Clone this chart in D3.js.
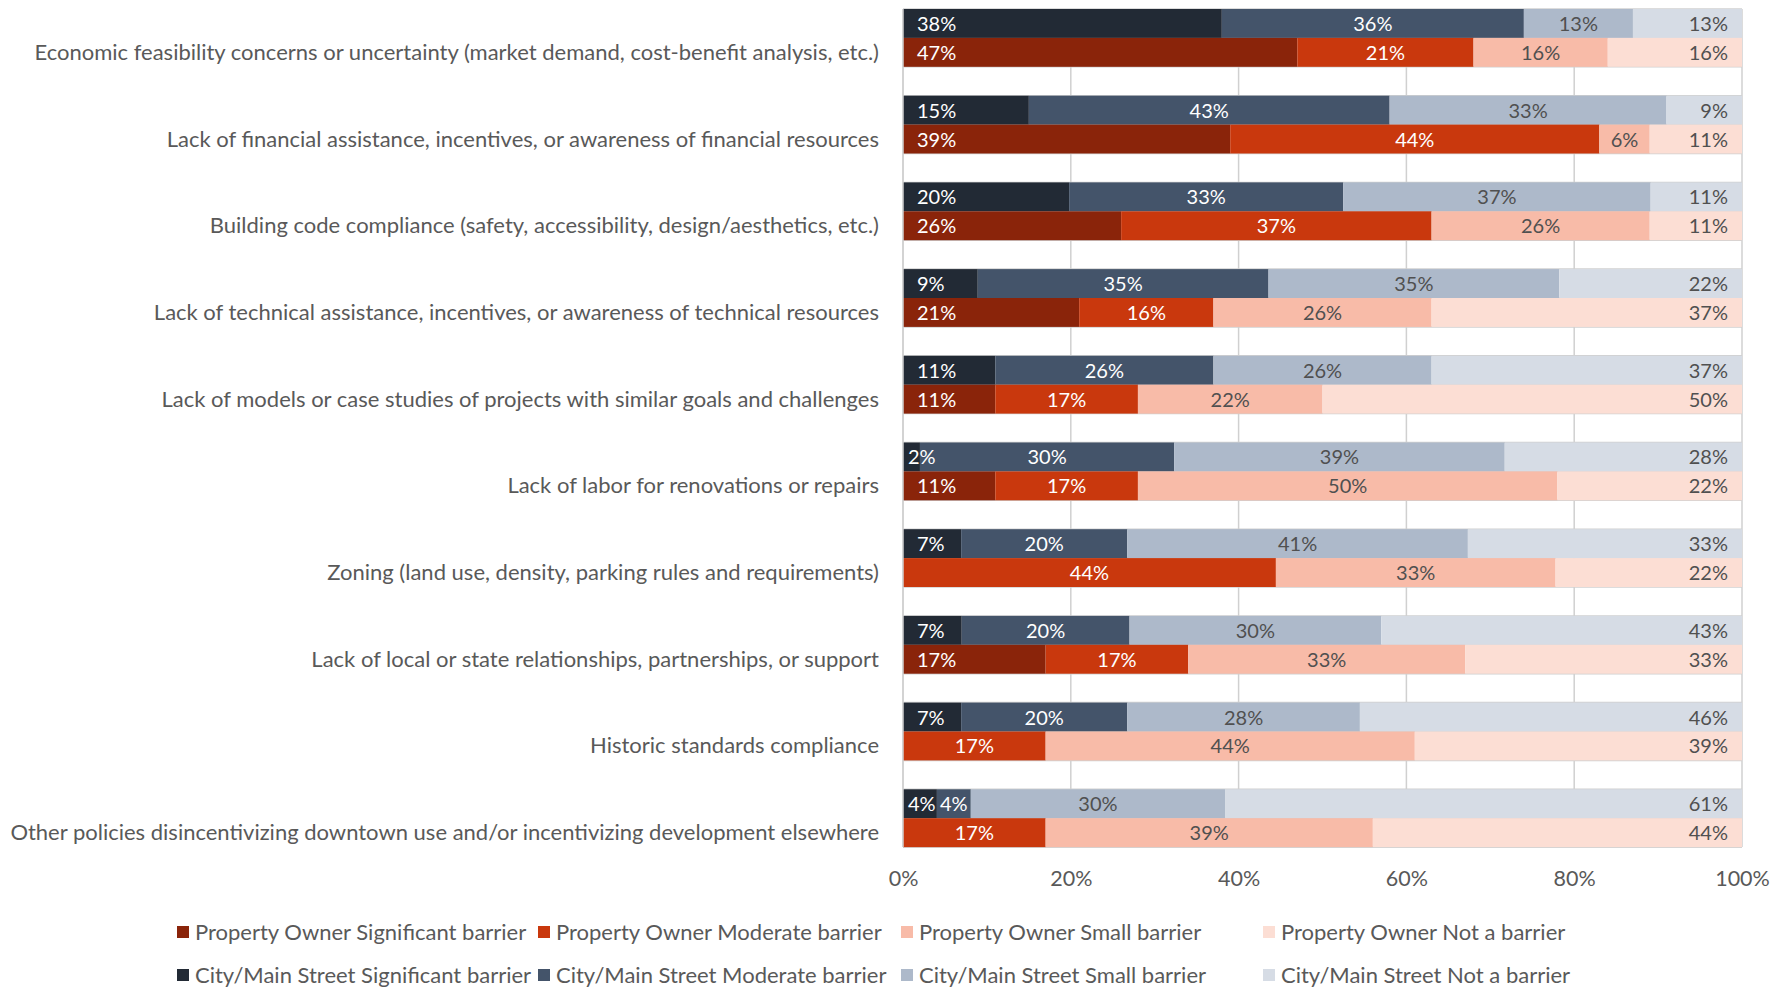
<!DOCTYPE html>
<html>
<head>
<meta charset="utf-8">
<script src="https://cdn.jsdelivr.net/npm/d3@7"></script>
<style>
  html, body { margin: 0; padding: 0; background: #ffffff; }
  svg { display: block; font-family: Lato, "Open Sans", sans-serif; }
</style>
</head>
<body>
<svg id="chart" width="1788" height="988"></svg>
<script>
// Barrier categories, top to bottom
const categories = [
  "Economic feasibility concerns or uncertainty (market demand, cost-benefit analysis, etc.)",
  "Lack of financial assistance, incentives, or awareness of financial resources",
  "Building code compliance (safety, accessibility, design/aesthetics, etc.)",
  "Lack of technical assistance, incentives, or awareness of technical resources",
  "Lack of models or case studies of projects with similar goals and challenges",
  "Lack of labor for renovations or repairs",
  "Zoning (land use, density, parking rules and requirements)",
  "Lack of local or state relationships, partnerships, or support",
  "Historic standards compliance",
  "Other policies disincentivizing downtown use and/or incentivizing development elsewhere"
];

// Response levels, in stacking order
const levels = ["Significant barrier", "Moderate barrier", "Small barrier", "Not a barrier"];

// City/Main Street responses (%), one row per category: significant, moderate, small, not
const citySignificant = [38, 15, 20,  9, 11,  2,  7,  7,  7,  4];
const cityModerate    = [36, 43, 33, 35, 26, 30, 20, 20, 20,  4];
const citySmall       = [13, 33, 37, 35, 26, 39, 41, 30, 28, 30];
const cityNot         = [13,  9, 11, 22, 37, 28, 33, 43, 46, 61];

// Property Owner responses (%)
const ownerSignificant = [47, 39, 26, 21, 11, 11,  0, 17,  0,  0];
const ownerModerate    = [21, 44, 37, 16, 17, 17, 44, 17, 17, 17];
const ownerSmall       = [16,  6, 26, 26, 22, 50, 33, 33, 44, 39];
const ownerNot         = [16, 11, 11, 37, 50, 22, 22, 33, 39, 44];

const xTicks = [0, 20, 40, 60, 80, 100];

const cityColors  = ["#222a35", "#44546a", "#adb9ca", "#d6dce5"];
const ownerColors = ["#8a240a", "#c9380d", "#f8bba8", "#fcded4"];
// label colour per level: white on dark fills, grey on light fills
const labelColors = ["#ffffff", "#ffffff", "#505050", "#505050"];

const groups = [
  { key: "city",  name: "City/Main Street", colors: cityColors,
    values: [citySignificant, cityModerate, citySmall, cityNot] },
  { key: "owner", name: "Property Owner",   colors: ownerColors,
    values: [ownerSignificant, ownerModerate, ownerSmall, ownerNot] }
];

const svg = d3.select("#chart");

const plot = { left: 903, right: 1742, top: 9 };
const slot = 28.9; // height of one bar row
const step = slot * 3; // city row, owner row, empty row

const x = d3.scaleLinear().domain([0, 1]).range([plot.left, plot.right]);
const y = d3.scaleBand().domain(categories)
  .range([plot.top, plot.top + step * categories.length])
  .paddingInner(0).paddingOuter(0);
const row = d3.scaleBand().domain(["city", "owner", "gap"]).range([0, step]);
const plotBottom = y(categories[categories.length - 1]) + row("owner") + row.bandwidth();

const gridColor = "#d0d0d0";
const grid = svg.append("g").attr("class", "grid");

// horizontal row boundaries (visible only in the empty rows)
const hLines = [];
categories.forEach(c => {
  ["city", "owner", "gap"].forEach(r => hLines.push(y(c) + row(r)));
});
hLines.push(plotBottom);
grid.selectAll("line.h").data(hLines.filter(v => v <= plotBottom + 0.5)).join("line")
  .attr("class", "h")
  .attr("x1", plot.left).attr("x2", plot.right)
  .attr("y1", d => d).attr("y2", d => d)
  .attr("stroke", gridColor).attr("stroke-width", 1.5);

// vertical gridlines at each tick
grid.selectAll("line.v").data(xTicks).join("line")
  .attr("class", "v")
  .attr("x1", d => x(d / 100)).attr("x2", d => x(d / 100))
  .attr("y1", plot.top).attr("y2", plotBottom)
  .attr("stroke", gridColor).attr("stroke-width", 1.5);

// 100% stacked bars
const stack = d3.stack()
  .keys(d3.range(levels.length))
  .value((d, k) => d[k])
  .offset(d3.stackOffsetExpand);

const labelFont = 20;
const pad = 14;

const barLayer = svg.append("g").attr("class", "bars");
const labelLayer = svg.append("g").attr("class", "bar-labels");

groups.forEach(g => {
  const rows = categories.map((c, i) => {
    const r = g.values.map(v => v[i]);
    r.category = c;
    return r;
  });
  const series = stack(rows);

  series.forEach((s, k) => {
    const items = s.map((d, i) => ({ x0: d[0], x1: d[1], v: rows[i][k], cat: categories[i] }))
      .filter(d => d.v > 0);

    barLayer.append("g").selectAll("rect").data(items).join("rect")
      .attr("x", d => x(d.x0))
      .attr("width", d => x(d.x1) - x(d.x0))
      .attr("y", d => y(d.cat) + row(g.key))
      .attr("height", row.bandwidth())
      .attr("fill", g.colors[k]);

    labelLayer.append("g").selectAll("text").data(items).join("text")
      .attr("font-size", labelFont)
      .attr("fill", labelColors[k])
      .attr("y", d => y(d.cat) + row(g.key) + row.bandwidth() / 2 + 7.5)
      .text(d => d.v + "%")
      .each(function (d) {
        const t = d3.select(this);
        const w = x(d.x1) - x(d.x0);
        const tw = this.getComputedTextLength();
        if (k === 0) {
          // anchored at the bar base, pulled in when the segment is narrow
          const off = Math.max(Math.min(pad, (w - tw) / 2), 5);
          t.attr("x", x(d.x0) + off).attr("text-anchor", "start");
        } else if (k === levels.length - 1) {
          t.attr("x", x(d.x1) - pad).attr("text-anchor", "end");
        } else {
          t.attr("x", (x(d.x0) + x(d.x1)) / 2).attr("text-anchor", "middle");
        }
      });
  });
});

// left axis line
svg.append("line")
  .attr("x1", plot.left).attr("x2", plot.left)
  .attr("y1", plot.top).attr("y2", plotBottom)
  .attr("stroke", gridColor).attr("stroke-width", 1.5);

// category labels, aligned with the owner row
svg.append("g").selectAll("text").data(categories).join("text")
  .attr("x", 879)
  .attr("y", d => y(d) + row("owner") + row.bandwidth() / 2 + 7.5)
  .attr("text-anchor", "end")
  .attr("font-size", 22)
  .attr("fill", "#595959")
  .text(d => d);

// x axis tick labels
const xAxis = d3.axisBottom(x).tickValues(xTicks.map(v => v / 100))
  .tickFormat(d => Math.round(d * 100) + "%").tickSize(0).tickPadding(0);
const axG = svg.append("g").attr("transform", `translate(0, ${plotBottom + 24})`).call(xAxis);
axG.select(".domain").remove();
axG.selectAll("text").attr("font-size", 21.5).attr("fill", "#595959")
  .attr("font-family", "Lato, 'Open Sans', sans-serif").attr("dy", "0.71em");

// legend: owner row on top, city row beneath
const legendRows = [groups[1], groups[0]];
const legendX = [177, 538, 901, 1263];
const legendY = [932, 975];
const lg = svg.append("g").attr("class", "legend");
legendRows.forEach((g, ri) => {
  levels.forEach((lvl, k) => {
    const it = lg.append("g").attr("transform", `translate(${legendX[k]}, ${legendY[ri]})`);
    it.append("rect").attr("x", 0).attr("y", -6).attr("width", 12).attr("height", 12)
      .attr("fill", g.colors[k]);
    it.append("text").attr("x", 18).attr("y", 7.5)
      .attr("font-size", 22).attr("fill", "#595959")
      .text(g.name + " " + lvl);
  });
});
</script>
</body>
</html>
